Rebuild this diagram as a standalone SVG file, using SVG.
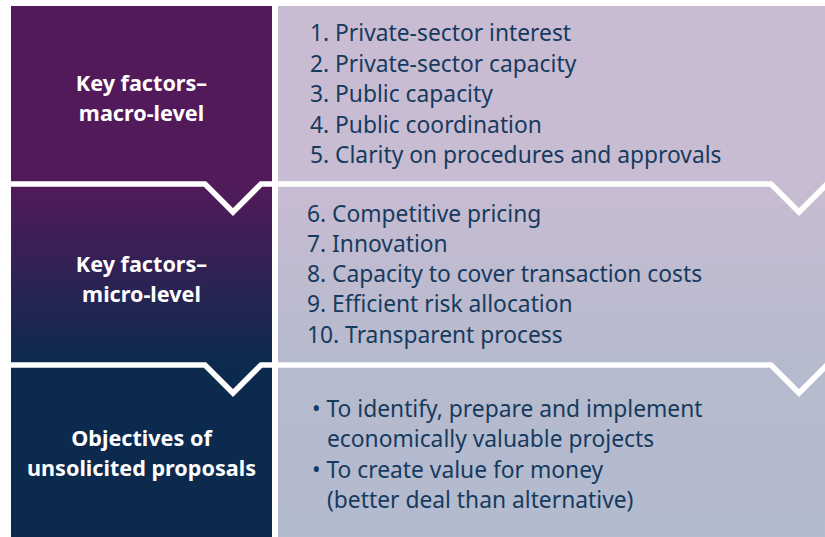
<svg xmlns="http://www.w3.org/2000/svg" width="825" height="537" viewBox="0 0 825 537">
  <style>
    .label { font-family: "Noto Sans", "Open Sans", sans-serif; font-weight: bold; font-size: 21.6px; fill: #ffffff; text-anchor: middle; }
    .item { font-family: "Noto Sans", "Open Sans", sans-serif; font-size: 22.8px; fill: #163a5e; }
    .sep { fill: none; stroke: #ffffff; stroke-width: 5.5; stroke-linejoin: miter; }
  </style>
  <defs>
    <linearGradient id="leftFill" gradientUnits="userSpaceOnUse" x1="0" y1="0" x2="0" y2="537">
      <stop offset="0" stop-color="#521a5a"/>
      <stop offset="0.345" stop-color="#521a5a"/>
      <stop offset="0.675" stop-color="#0c2a4e"/>
      <stop offset="1" stop-color="#0b2a4e"/>
    </linearGradient>
    <linearGradient id="rightFill" gradientUnits="userSpaceOnUse" x1="0" y1="0" x2="0" y2="537">
      <stop offset="0" stop-color="#c9bcd2"/>
      <stop offset="0.345" stop-color="#c8bcd2"/>
      <stop offset="0.675" stop-color="#b6bacd"/>
      <stop offset="1" stop-color="#b3bbce"/>
    </linearGradient>
  </defs>

  <rect x="0" y="0" width="825" height="537" fill="#ffffff"/>

  <!-- background columns -->
  <rect x="11" y="6" width="261" height="531" fill="url(#leftFill)"/>
  <rect x="278" y="6" width="547" height="531" fill="url(#rightFill)"/>

  <g id="macro">
    <text class="label" x="141.5" y="91">Key factors–</text>
    <text class="label" x="141.5" y="121">macro-level</text>
    <text class="item" x="310" y="41">1. Private-sector interest</text>
    <text class="item" x="310" y="72">2. Private-sector capacity</text>
    <text class="item" x="310" y="102">3. Public capacity</text>
    <text class="item" x="310" y="133">4. Public coordination</text>
    <text class="item" x="310" y="163">5. Clarity on procedures and approvals</text>
  </g>

  <g id="micro">
    <text class="label" x="141.5" y="272">Key factors–</text>
    <text class="label" x="141.5" y="302">micro-level</text>
    <text class="item" x="307" y="222">6. Competitive pricing</text>
    <text class="item" x="307" y="252">7. Innovation</text>
    <text class="item" x="307" y="282">8. Capacity to cover transaction costs</text>
    <text class="item" x="307" y="312">9. Efficient risk allocation</text>
    <text class="item" x="307" y="343">10. Transparent process</text>
  </g>

  <g id="objectives">
    <text class="label" x="141.5" y="446">Objectives of</text>
    <text class="label" x="141.5" y="476">unsolicited proposals</text>
    <text class="item" x="312" y="417">• To identify, prepare and implement</text>
    <text class="item" x="327" y="447">economically valuable projects</text>
    <text class="item" x="312" y="478">• To create value for money</text>
    <text class="item" x="327" y="508">(better deal than alternative)</text>
  </g>

  <!-- white chevron dividers between the bands -->
  <g id="connectors">
    <path class="sep" d="M11,184 H205 L233,212 L261,184 H771 L799,212 L827,184"/>
    <path class="sep" d="M11,365 H205 L233,393 L261,365 H771 L799,393 L827,365"/>
    <rect x="272" y="0" width="6" height="537" fill="#ffffff"/>
  </g>
</svg>
